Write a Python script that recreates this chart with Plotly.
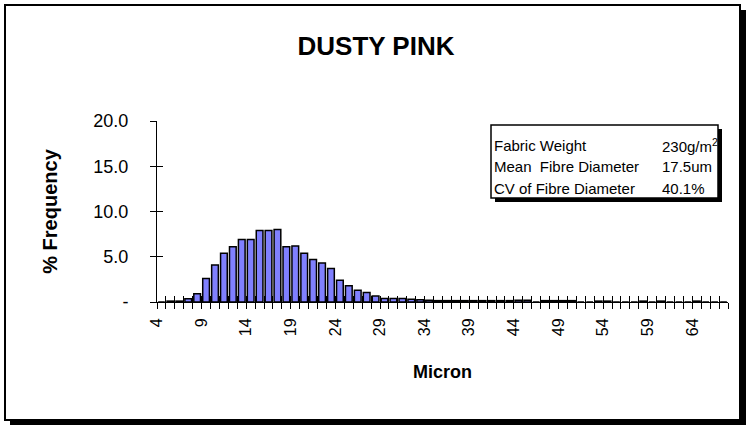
import plotly.graph_objects as go

# histogram of fibre diameters, one bar per micron class
microns = list(range(4, 68))
frequency = [
    0.0, 0.1, 0.1, 0.35, 0.9, 2.6, 4.1, 5.4, 6.1, 6.9,
    6.9, 7.9, 7.9, 8.0, 6.1, 6.2, 5.4, 4.7, 4.3, 3.7,
    2.4, 1.8, 1.3, 1.05, 0.65, 0.4, 0.4, 0.4, 0.3, 0.25,
    0.2, 0.15, 0.15, 0.15, 0.15, 0.15, 0.15, 0.15, 0.15, 0.15,
    0.2, 0.2, 0.0, 0.15, 0.15, 0.15, 0.15, 0.0, 0.0, 0.1,
    0.1, 0.0, 0.0, 0.0, 0.1, 0.0, 0.1, 0.0, 0.0, 0.0,
    0.1, 0.0, 0.0, 0.0,
]
x_labels = ["4", "9", "14", "19", "24", "29", "34", "39", "44", "49", "54", "59", "64"]
y_ticks = [0, 5, 10, 15, 20]
y_labels = ["-", "5.0", "10.0", "15.0", "20.0"]

info_names = ["Fabric Weight", "Mean  Fibre Diameter", "CV of Fibre Diameter"]
info_values = ["230g/m<sup>2</sup>", "17.5um", "40.1%"]

W, H = 746, 425
L, R, T, B = 157, 18, 121, 123
FONT = "Liberation Sans, Arial, sans-serif"


def px(x):
    return (x - L) / (W - L - R)


def py(y):
    return (H - B - y) / (H - T - B)


label_pos = [int(s) for s in x_labels]
all_ticks = list(range(4, 69))

fig = go.Figure()
fig.add_trace(go.Bar(
    x=[m + 0.5 for m in microns], y=frequency, width=0.75,
    marker=dict(color="#8080FF", line=dict(color="black", width=1.5)),
    showlegend=False,
))
# empty trace so the overlay axes (inner half of the crossing ticks) get drawn
fig.add_trace(go.Scatter(x=[], y=[], xaxis="x2", yaxis="y2", showlegend=False))

fig.update_layout(
    width=W, height=H,
    margin=dict(l=L, r=R, t=T, b=B),
    paper_bgcolor="white", plot_bgcolor="rgba(0,0,0,0)",
    font=dict(family=FONT, color="black", size=16),
    title=dict(text="<b>DUSTY PINK</b>", font=dict(size=26),
               x=376 / W, xanchor="center", xref="container",
               y=1 - 46 / H, yanchor="middle", yref="container"),
    xaxis=dict(range=[4, 68], tickmode="array", tickvals=label_pos, ticktext=x_labels,
               tickangle=-90, ticks="outside", ticklen=6, tickcolor="black",
               minor=dict(tickmode="array", tickvals=all_ticks, ticks="outside",
                          ticklen=6, tickcolor="black", showgrid=False),
               showline=True, linecolor="black", linewidth=1, showgrid=False, zeroline=False,
               tickfont=dict(size=16), ticklabelstandoff=3,
               title=dict(text="<b>Micron</b>", font=dict(size=18), standoff=30)),
    yaxis=dict(range=[0, 20], tickmode="array", tickvals=y_ticks, ticktext=y_labels,
               ticks="outside", ticklen=6, tickcolor="black",
               showline=True, linecolor="black", linewidth=1, showgrid=False, zeroline=False,
               tickfont=dict(size=18), ticklabelstandoff=18,
               title=dict(text="<b>% Frequency</b>", font=dict(size=20), standoff=30)),
    xaxis2=dict(range=[4, 68], overlaying="x", anchor="y2", tickmode="array", tickvals=all_ticks,
                ticks="inside", ticklen=6, tickcolor="black", showticklabels=False,
                showline=False, showgrid=False, zeroline=False),
    yaxis2=dict(range=[0, 20], overlaying="y", anchor="x2", tickmode="array", tickvals=y_ticks,
                ticks="inside", ticklen=6, tickcolor="black", showticklabels=False,
                showline=False, showgrid=False, zeroline=False),
)

# outer chart frame with drop shadow
fig.add_shape(type="rect", xref="paper", yref="paper", layer="below",
              x0=px(10), x1=px(746), y0=py(10), y1=py(425),
              fillcolor="black", line=dict(width=0))
fig.add_shape(type="rect", xref="paper", yref="paper", layer="below",
              x0=px(5), x1=px(740), y0=py(5), y1=py(420),
              fillcolor="white", line=dict(color="black", width=2))

# info box with drop shadow
fig.add_shape(type="rect", xref="paper", yref="paper",
              x0=px(495), x1=px(722), y0=py(129), y1=py(202),
              fillcolor="black", line=dict(width=0))
fig.add_shape(type="rect", xref="paper", yref="paper",
              x0=px(491), x1=px(718), y0=py(125), y1=py(198),
              fillcolor="white", line=dict(color="black", width=1.5))

row_y = [145, 166, 188]
for name, value, y in zip(info_names, info_values, row_y):
    fig.add_annotation(text=name, xref="paper", yref="paper", x=px(492), y=py(y),
                       xanchor="left", yanchor="middle", showarrow=False, font=dict(size=15))
    fig.add_annotation(text=value, xref="paper", yref="paper", x=px(660), y=py(y),
                       xanchor="left", yanchor="middle", showarrow=False, font=dict(size=15))

# the page body has a default 8px margin; drop it so the figure fills the window
fig.write_html("out.html", config={"displayModeBar": False},
               post_script="document.body.style.margin='0';")
